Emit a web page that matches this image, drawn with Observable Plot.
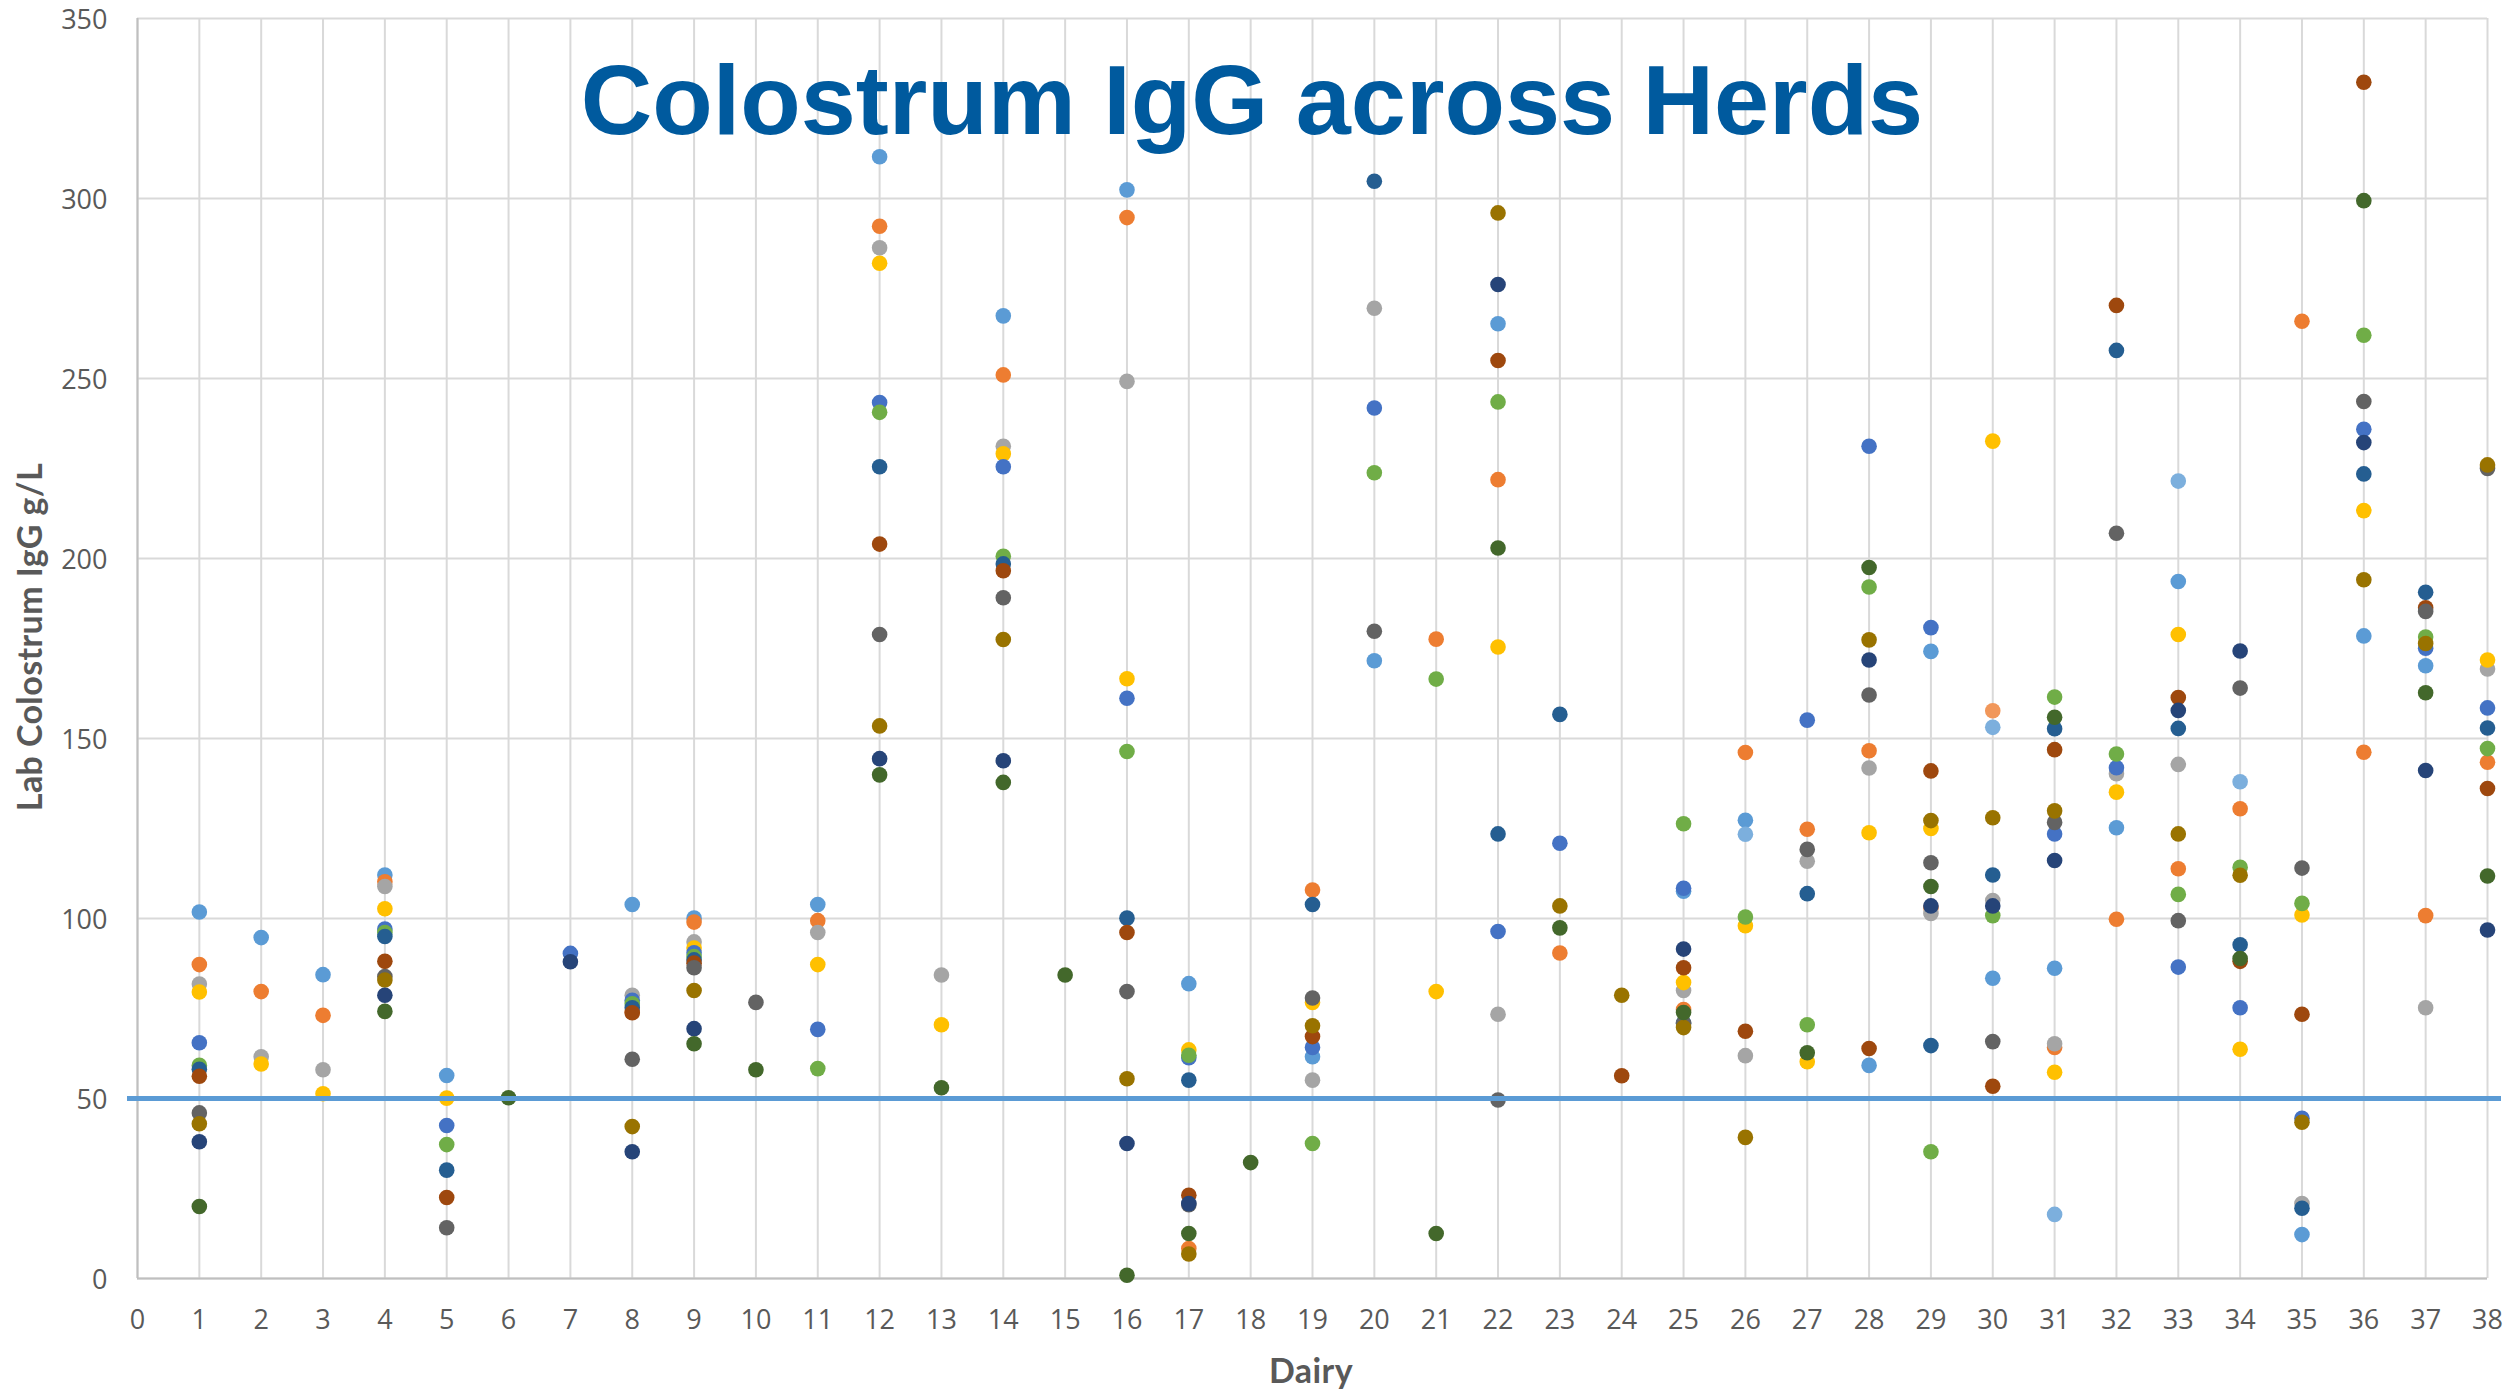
<!DOCTYPE html>
<html>
<head>
<meta charset="utf-8">
<script src="https://cdn.jsdelivr.net/npm/d3@7"></script>
<script src="https://cdn.jsdelivr.net/npm/@observablehq/plot@0.6"></script>
<style>
  html, body { margin: 0; padding: 0; background: #ffffff; }
  #wrap { position: relative; width: 2514px; height: 1392px; overflow: hidden; }
  #title { position: absolute; left: 1252px; top: 50px; transform: translateX(-50%);
           font-family: "Liberation Sans", Arial, sans-serif; font-weight: bold; font-size: 99px;
           line-height: 99px; color: #005A9E; white-space: nowrap; }
  .axlabel { position: absolute; font-family: Lato, "Open Sans", sans-serif; font-weight: bold;
             font-size: 34px; letter-spacing: 0.4px; color: #595959; white-space: nowrap; line-height: 1; }
  #ylab { left: 29px; top: 637px; transform: translate(-50%, -50%) rotate(-90deg); }
  #xlab { left: 1311px; top: 1370px; transform: translate(-50%, -50%); }
</style>
</head>
<body>
<div id="wrap">
  <div id="chart"></div>
  <div id="title">Colostrum IgG across Herds</div>
  <div class="axlabel" id="ylab">Lab Colostrum IgG g/L</div>
  <div class="axlabel" id="xlab">Dairy</div>
</div>
<script>
// Series (sample order within each dairy) and their colours
const seriesNames = ["S1","S2","S3","S4","S5","S6","S7","S8","S9","S10","S11","S12","S13","S14"];
const seriesColors = ["#5B9BD5","#ED7D31","#A5A5A5","#FFC000","#4472C4","#70AD47","#255E91",
                      "#9E480E","#636363","#997300","#264478","#43682B","#7CAFDD","#F1975A"];

// Lab colostrum IgG (g/L) per dairy, listed in series order (null = no sample)
const d1  = [101.8, 87.2, 81.8, 79.6, 65.5, 59.2, 58.1, 56.2, 46.0, 43.0, 38.0, 20.0];
const d2  = [94.7, 79.7, 61.6, 59.6];
const d3  = [84.4, 73.1, 58.0, 51.3];
const d4  = [112.1, 110.2, 108.9, 102.7, 97.1, 96.1, 95.0, 88.1, 83.9, 82.9, 78.7, 74.2];
const d5  = [56.4, null, null, 50.1, 42.5, 37.2, 30.1, 22.5, 14.1];
const d6  = [null, null, null, null, null, null, null, null, null, null, null, 50.2];
const d7  = [null, null, null, null, 90.3, null, null, null, null, null, 88.0];
const d8  = [103.9, 74.0, 78.7, null, 77.3, 76.3, 75.2, 73.8, 60.9, 42.2, 35.2];
const d9  = [100.1, 99.0, 93.5, 91.8, 90.5, 89.4, 88.5, 87.6, 86.3, 80.0, 69.4, 65.2];
const d10 = [null, null, null, null, null, null, null, null, 76.7, null, null, 58.0];
const d11 = [103.9, 99.4, 96.1, 87.2, 69.2, 58.3];
const d12 = [311.6, 292.3, 286.3, 282.0, 243.3, 240.6, 225.5, 204.0, 178.9, 153.5, 144.4, 139.9];
const d13 = [null, null, 84.3, 70.5, null, null, null, null, null, null, null, 53.0];
const d14 = [267.4, 251.0, 231.2, 229.1, 225.5, 200.6, 198.5, 196.6, 189.1, 177.5, 143.8, 137.8];
const d15 = [null, null, null, null, null, null, null, null, null, null, null, 84.3];
const d16 = [302.4, 294.7, 249.2, 166.6, 161.2, 146.4, 100.1, 96.1, 79.7, 55.5, 37.5, 0.9];
const d17 = [81.9, 8.3, null, 63.5, 61.3, 62.0, 55.1, 23.1, 20.5, 6.8, 20.8, 12.5];
const d18 = [null, null, null, null, null, null, null, null, null, null, null, 32.2];
const d19 = [61.6, 107.9, 55.1, 76.7, 64.2, 37.5, 103.9, 67.2, 77.9, 70.2];
const d20 = [171.6, null, 269.5, null, 241.8, 223.8, 304.8, null, 179.8];
const d21 = [null, 177.6, null, 79.7, null, 166.5, null, null, null, null, null, 12.5];
const d22 = [265.2, 221.9, 73.4, 175.4, 96.4, 243.5, 123.5, 255.0, 49.6, 296.0, 276.1, 202.9];
const d23 = [null, 90.4, null, null, 120.9, null, 156.7, null, null, 103.5, null, 97.4];
const d24 = [null, null, null, null, null, null, null, 56.3, null, 78.7];
const d25 = [107.6, 74.7, 80.0, 82.2, 108.4, 126.3, 71.0, 86.3, 70.8, 69.7, 91.5, 73.9];
const d26 = [127.3, 146.1, 61.9, 98.0, null, 100.4, null, 68.7, null, 39.2, null, null, 123.4];
const d27 = [null, 124.8, 115.9, 60.2, 155.1, 70.5, 106.9, null, 119.2, null, null, 62.7];
const d28 = [59.2, 146.6, 141.8, 123.8, 231.2, 192.1, null, 63.9, 162.1, 177.4, 171.8, 197.5];
const d29 = [174.2, 103.0, 101.4, 125.0, 180.8, 35.2, 64.7, 141.0, 115.5, 127.2, 103.5, 108.9];
const d30 = [83.4, null, 105.0, 232.6, null, 100.8, 112.1, 53.4, 65.8, 128.0, 103.5, null, 153.1, 157.7];
const d31 = [86.2, 64.2, 65.2, 57.3, 123.5, 161.5, 152.7, 146.9, 126.7, 129.9, 116.1, 155.9, 17.8];
const d32 = [125.2, 99.8, 140.2, 135.1, 141.9, 145.7, 257.8, 270.3, 207.0];
const d33 = [193.6, 113.8, 142.8, 178.9, 86.5, 106.7, 152.8, 161.4, 99.4, 123.5, 157.8, null, 221.5];
const d34 = [null, 130.5, null, 63.7, 75.2, 114.2, 92.7, 88.1, 164.0, 112.0, 174.3, 88.9, 138.0];
const d35 = [12.2, 265.9, 20.8, 101.0, 44.5, 104.2, 19.5, 73.4, 114.0, 43.4];
const d36 = [178.5, 146.2, null, 213.3, 235.9, 262.0, 223.5, 332.3, 243.6, 194.1, 232.2, 299.4];
const d37 = [170.2, 100.8, 75.2, null, 175.1, 178.2, 190.6, 186.3, 185.3, 176.4, 141.1, 162.7];
const d38 = [null, 143.4, 169.3, 171.8, 158.5, 147.2, 152.9, 136.1, 225.0, 226.0, 96.8, 111.8];

const dairyValues = [d1,d2,d3,d4,d5,d6,d7,d8,d9,d10,d11,d12,d13,d14,d15,d16,d17,d18,d19,
                     d20,d21,d22,d23,d24,d25,d26,d27,d28,d29,d30,d31,d32,d33,d34,d35,d36,d37,d38];

const xTicks = [0,1,2,3,4,5,6,7,8,9,10,11,12,13,14,15,16,17,18,19,20,21,22,23,24,25,26,27,28,29,30,31,32,33,34,35,36,37,38];
const yTicks = [0, 50, 100, 150, 200, 250, 300, 350];
const threshold = [50];

// Long table, series-major so later series draw on top (as in the original)
const points = [];
seriesNames.forEach((s, si) => {
  dairyValues.forEach((vals, di) => {
    const v = vals[si];
    if (v !== null && v !== undefined) points.push({dairy: di + 1, series: s, value: v});
  });
});

const chart = Plot.plot({
  width: 2514,
  height: 1392,
  marginLeft: 137,
  marginRight: 27,
  marginTop: 18,
  marginBottom: 114,
  style: {fontFamily: "'Open Sans', sans-serif", fontSize: "27px", color: "#595959", background: "#ffffff"},
  x: {domain: [0, 38], label: null},
  y: {domain: [0, 350], label: null},
  color: {domain: seriesNames, range: seriesColors},
  marks: [
    Plot.gridX(xTicks, {stroke: "#D9D9D9", strokeOpacity: 1, strokeWidth: 2}),
    Plot.gridY(yTicks, {stroke: "#D9D9D9", strokeOpacity: 1, strokeWidth: 2}),
    Plot.ruleX([0], {stroke: "#BFBFBF", strokeWidth: 2}),
    Plot.ruleY([0], {stroke: "#BFBFBF", strokeWidth: 2}),
    Plot.axisX(xTicks, {tickSize: 0, tickPadding: 31, fontSize: 27, fill: "#595959", label: null, tickFormat: d => String(d)}),
    Plot.axisY(yTicks, {tickSize: 0, tickPadding: 30, fontSize: 27, fill: "#595959", label: null, dy: 1.5, tickFormat: d => String(d)}),
    Plot.dot(points, {x: "dairy", y: "value", fill: "series", r: 7.8}),
    Plot.ruleY(threshold, {stroke: "#5B9BD5", strokeWidth: 5, insetLeft: -10, insetRight: -14})
  ]
});
document.getElementById("chart").appendChild(chart);
</script>
</body>
</html>
